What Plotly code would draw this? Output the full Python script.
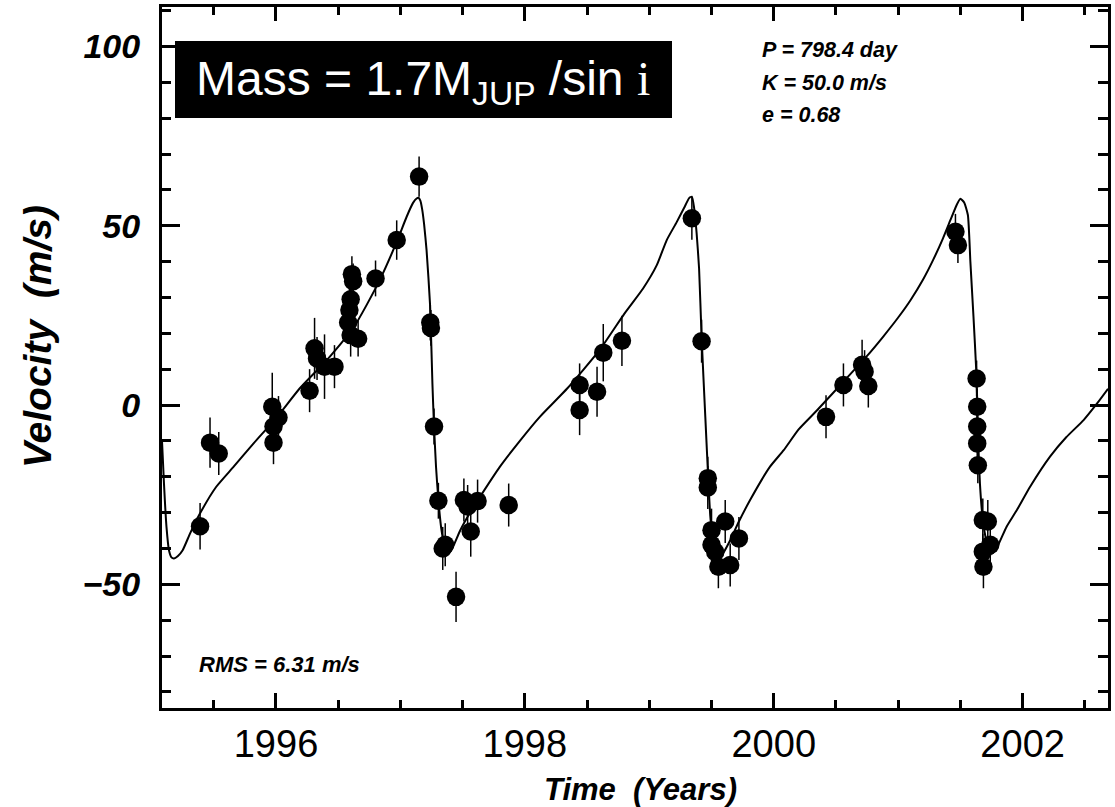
import plotly.graph_objects as go

# ---------------- data ----------------
obs_year = [1995.39, 1995.47, 1995.54, 1995.97, 1996.02, 1995.98, 1995.98,
            1996.27, 1996.31, 1996.33, 1996.39, 1996.47,
            1996.58, 1996.59, 1996.60, 1996.61, 1996.62, 1996.60, 1996.66,
            1996.80, 1996.97, 1997.15,
            1997.24, 1997.245, 1997.27, 1997.305, 1997.34, 1997.36, 1997.447,
            1997.51, 1997.54, 1997.62, 1997.565, 1997.87,
            1998.44, 1998.44, 1998.58, 1998.63, 1998.78,
            1999.342, 1999.42, 1999.47, 1999.47, 1999.50, 1999.50, 1999.53,
            1999.61, 1999.555, 1999.65, 1999.72,
            2000.42, 2000.56, 2000.71, 2000.73, 2000.76,
            2001.46, 2001.48, 2001.63, 2001.635, 2001.635, 2001.635, 2001.64,
            2001.68, 2001.72, 2001.74, 2001.68, 2001.685]
obs_vel = [-33.8, -10.5, -13.5, -0.5, -3.5, -6.0, -10.5,
           4.0, 15.8, 13.0, 10.7, 10.7,
           23.0, 26.5, 29.5, 36.5, 34.5, 19.5, 18.5,
           35.3, 46.0, 63.7,
           23.0, 21.5, -6.0, -26.7, -40.0, -39.0, -53.5,
           -26.5, -28.3, -26.8, -35.3, -27.9,
           5.6, -1.4, 3.7, 14.6, 17.9,
           52.1, 17.8, -20.4, -23.0, -34.9, -39.0, -41.0,
           -32.5, -45.1, -44.6, -37.2,
           -3.3, 5.6, 11.2, 9.3, 5.3,
           48.3, 44.6, 7.4, -0.5, -6.0, -10.7, -16.8,
           -32.1, -32.5, -39.0, -40.9, -45.1]
obs_err = [6.5, 7.0, 6.0, 9.5, 6.0, 6.0, 6.0,
           6.0, 8.5, 6.0, 9.0, 6.0,
           6.0, 6.0, 6.0, 5.0, 5.0, 6.0, 5.0,
           5.0, 5.5, 5.6,
           5.0, 5.0, 5.0, 5.0, 6.0, 6.0, 7.0,
           6.0, 6.0, 6.0, 7.0, 6.0,
           6.0, 7.0, 7.0, 8.0, 7.0,
           6.0, 6.0, 6.0, 6.0, 6.0, 6.0, 6.0,
           6.0, 6.0, 6.0, 6.0,
           6.0, 6.0, 7.0, 6.0, 6.0,
           5.0, 5.0, 5.0, 5.0, 5.0, 5.0, 5.0,
           6.0, 6.0, 5.0, 5.0, 6.0]

fit_year = [1995.084, 1995.10, 1995.12, 1995.14, 1995.16, 1995.18, 1995.21,
            1995.25, 1995.31, 1995.39, 1995.52, 1995.66, 1995.82, 1996.01,
            1996.19, 1996.41, 1996.62, 1996.73, 1996.84, 1996.97, 1997.05,
            1997.10, 1997.13, 1997.145, 1997.16, 1997.175, 1997.19, 1997.21,
            1997.238, 1997.257, 1997.27, 1997.286, 1997.305, 1997.33, 1997.35,
            1997.375, 1997.40, 1997.43, 1997.48, 1997.56, 1997.64, 1997.80,
            1997.96, 1998.12, 1998.34, 1998.60, 1998.80, 1998.95, 1999.06,
            1999.14, 1999.22, 1999.28, 1999.32, 1999.342, 1999.36, 1999.38,
            1999.40, 1999.42, 1999.45, 1999.47, 1999.49, 1999.51, 1999.53,
            1999.555, 1999.59, 1999.65, 1999.72, 1999.81, 1999.97, 2000.08,
            2000.20, 2000.35, 2000.48, 2000.61, 2000.75, 2000.88, 2001.00,
            2001.10, 2001.20, 2001.28, 2001.36, 2001.42, 2001.47,
            2001.50, 2001.53, 2001.56, 2001.58, 2001.605, 2001.627, 2001.636,
            2001.645, 2001.657, 2001.68, 2001.71, 2001.75, 2001.79, 2001.87,
            2001.95, 2002.06, 2002.22, 2002.35, 2002.49, 2002.60, 2002.686]
fit_vel = [-10.0, -22.0, -34.0, -40.5, -42.5, -42.8, -42.2,
           -40.5, -35.8, -30.2, -22.8, -17.2, -10.7, -3.3,
           4.6, 12.6, 21.4, 28.0, 35.3, 45.5, 52.5,
           56.3, 57.6, 57.8, 57.0, 54.5, 50.5, 43.2,
           28.0, 6.0, -6.0, -17.2, -26.5, -34.9, -38.5,
           -40.5, -40.8, -39.0, -35.0, -30.0, -25.6, -17.2,
           -10.0, -3.3, 4.6, 15.3, 25.5, 32.5, 39.0,
           46.0, 51.0, 55.0, 57.7, 58.1, 55.0, 48.0,
           38.0, 19.0, -3.3, -18.0, -31.0, -37.5, -41.0,
           -43.0, -41.5, -37.7, -32.5, -26.5, -17.2, -12.6,
           -6.8, -1.4, 3.5, 8.4, 13.7, 19.1, 24.4,
           29.3, 35.0, 40.4, 46.5, 51.6, 55.8,
           57.5, 56.5, 53.0, 40.0, 24.6, 9.8, 0.0,
           -12.0, -22.0, -32.0, -38.0, -41.5, -40.0, -34.0,
           -29.5, -22.8, -14.4, -9.0, -4.2, 0.5, 4.5]

x_ticks = [1996, 1998, 2000, 2002]
x_tick_text = ["1996", "1998", "2000", "2002"]
y_ticks = [-50, 0, 50, 100]
y_tick_text = ["\u221250", "0", "50", "100"]

X_RANGE = [1995.084, 2002.686]
Y_RANGE = [-84.5, 111.0]

# ---------------- layout geometry (pixels) ----------------
W, H = 1115, 807
L, R, T, B = 162, 1108, 7, 708


def px_x(px):
    return (px - L) / (R - L)


def px_y(py):
    return (B - py) / (B - T)


SANS = "Liberation Sans, Arial, Helvetica, sans-serif"

fig = go.Figure()

fig.add_trace(go.Scatter(
    x=fit_year, y=fit_vel, mode="lines",
    line=dict(color="black", width=2, shape="spline", smoothing=0.5),
    hoverinfo="skip", showlegend=False,
))

fig.add_trace(go.Scatter(
    x=obs_year, y=obs_vel, mode="markers",
    marker=dict(color="black", size=18.5, symbol="circle"),
    error_y=dict(type="data", array=obs_err, visible=True,
                 color="black", thickness=1.5, width=0),
    showlegend=False,
))

# empty trace that carries the top / right frame axes
fig.add_trace(go.Scatter(x=[], y=[], xaxis="x2", yaxis="y2",
                         mode="markers", hoverinfo="skip", showlegend=False))

frame = dict(showline=True, linewidth=3, linecolor="black", mirror=False,
             ticks="inside", tickcolor="black", tickwidth=2.5,
             showgrid=False, zeroline=False, automargin=False)

x_minor = dict(tickmode="linear", tick0=1996, dtick=0.5, ticks="inside",
               ticklen=8, tickwidth=2.5, tickcolor="black", showgrid=False)
y_minor = dict(tickmode="linear", tick0=0, dtick=10, ticks="inside",
               ticklen=9, tickwidth=2.5, tickcolor="black", showgrid=False)

fig.update_layout(
    xaxis=dict(range=X_RANGE, tickmode="array", tickvals=x_ticks,
               ticktext=x_tick_text, ticklen=15, minor=x_minor,
               tickfont=dict(family=SANS, size=38, color="black"), **frame),
    yaxis=dict(range=Y_RANGE, tickmode="array", tickvals=y_ticks,
               ticktext=y_tick_text, ticklen=18, minor=y_minor,
               ticklabelstandoff=12,
               tickfont=dict(family=SANS, size=34, color="black",
                             weight="bold", style="italic"), **frame),
    xaxis2=dict(range=X_RANGE, overlaying="x", side="top", anchor="y2",
                tickmode="array", tickvals=x_ticks, showticklabels=False,
                ticklen=14, minor=x_minor, **frame),
    yaxis2=dict(range=Y_RANGE, overlaying="y", side="right", anchor="x2",
                tickmode="array", tickvals=y_ticks, showticklabels=False,
                ticklen=18, minor=dict(y_minor, ticklen=10), **frame),
)

# black label box
fig.add_shape(type="rect", xref="paper", yref="paper",
              x0=px_x(175), x1=px_x(672), y0=px_y(118), y1=px_y(41),
              fillcolor="black", line=dict(width=0), layer="above")

bi = dict(family=SANS, color="black", weight="bold", style="italic")

annotations = [
    dict(text='Mass = 1.7M<sub>JUP</sub> /sin '
              '<span style="font-family:Liberation Serif">i</span>',
         x=px_x(194), y=px_y(82), xanchor="left", yanchor="middle",
         font=dict(family=SANS, size=48, color="white")),
    dict(text="P = 798.4 day", x=px_x(760), y=px_y(50),
         xanchor="left", yanchor="middle", font=dict(size=21.5, **bi)),
    dict(text="K = 50.0 m/s", x=px_x(760), y=px_y(83),
         xanchor="left", yanchor="middle", font=dict(size=21.5, **bi)),
    dict(text="e = 0.68", x=px_x(760), y=px_y(115),
         xanchor="left", yanchor="middle", font=dict(size=21.5, **bi)),
    dict(text="RMS = 6.31 m/s", x=px_x(197), y=px_y(664),
         xanchor="left", yanchor="middle", font=dict(size=22, **bi)),
    dict(text="Velocity  (m/s)", x=px_x(37), y=px_y(337), textangle=-90,
         xanchor="center", yanchor="middle", font=dict(size=39, **bi)),
    dict(text="Time  (Years)", x=px_x(640), y=px_y(790),
         xanchor="center", yanchor="middle", font=dict(size=31, **bi)),
]
for a in annotations:
    a.update(xref="paper", yref="paper", showarrow=False)
fig.update_layout(annotations=annotations)

fig.update_layout(
    width=W, height=H,
    margin=dict(l=L, r=W - R, t=T, b=H - B, pad=0, autoexpand=False),
    plot_bgcolor="white", paper_bgcolor="white",
    showlegend=False,
)

fig.write_html("out.html")
